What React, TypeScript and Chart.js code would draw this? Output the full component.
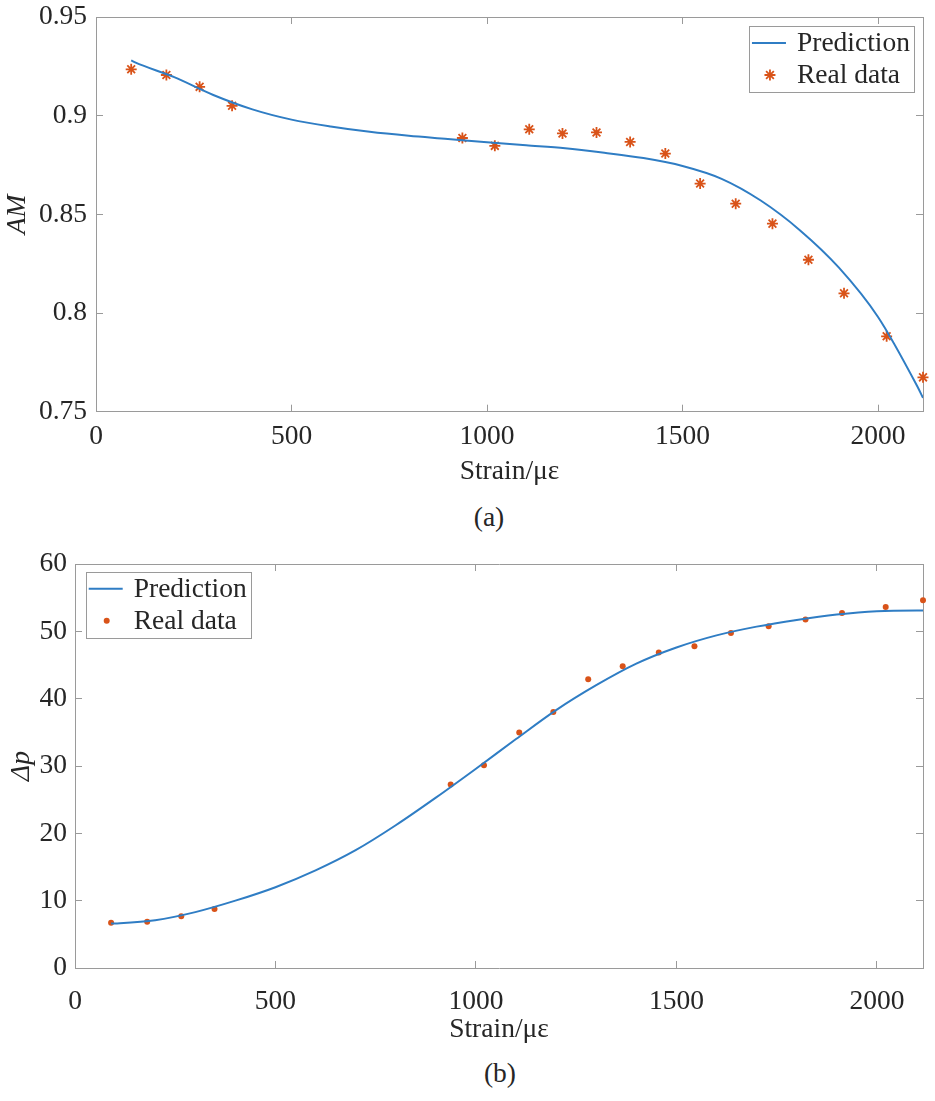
import React, { useEffect, useRef } from "react";
import { Chart, registerables } from "chart.js";

Chart.register(...registerables);

// strain (με) of the measured points, same for both panels
const strain = [90, 180, 265, 348, 937, 1020, 1108, 1193, 1280, 1366, 1456, 1545, 1636, 1730, 1822, 1913, 2022, 2115];
const amReal = [0.9235, 0.9206, 0.9146, 0.905, 0.8887, 0.8847, 0.8931, 0.891, 0.8915, 0.8867, 0.8808, 0.8656, 0.8554, 0.8453, 0.827, 0.81, 0.7882, 0.7674];
const dpReal = [6.72, 6.87, 7.7, 8.75, 27.26, 30.1, 34.97, 38.03, 42.88, 44.8, 46.84, 47.77, 49.75, 50.74, 51.74, 52.72, 53.6, 54.6];

const fitStrain = [90, 100, 200, 300, 400, 500, 600, 700, 800, 900, 1000, 1100, 1200, 1300, 1400, 1500, 1600, 1700, 1800, 1900, 2000, 2100, 2115];
const amFit = [0.928, 0.927, 0.9195, 0.9105, 0.9032, 0.898, 0.8945, 0.8918, 0.8898, 0.8882, 0.8865, 0.885, 0.8835, 0.8812, 0.8785, 0.8745, 0.868, 0.857, 0.842, 0.823, 0.798, 0.763, 0.757];
const dpFit = [6.6, 6.62, 7.1, 8.3, 10.0, 12.0, 14.5, 17.5, 21.2, 25.3, 29.6, 34.0, 38.3, 42.0, 45.2, 47.6, 49.4, 50.7, 51.7, 52.5, 53.0, 53.1, 53.1];

const strainTicks = [0, 500, 1000, 1500, 2000];
const amTicks = [0.75, 0.8, 0.85, 0.9, 0.95];
const dpTicks = [0, 10, 20, 30, 40, 50, 60];

const FONT = "'Liberation Serif', 'Times New Roman', serif";
const FS = 27.5;
const HALF_LINE = (FS * 1.2) / 2;
const INK = "#262626";
const AXIS = "#9a9a9a";
const BLUE = "#2f7dc4";
const ORANGE = "#d95319";

// legend with a frame, drawn inside the plot like MATLAB's
const boxLegend = (corner: "tl" | "tr", dx: number, dy: number) => ({
  id: "boxLegend",
  afterDatasetsDraw(chart: any) {
    const { ctx, chartArea } = chart;
    const sets = chart.data.datasets;
    ctx.save();
    ctx.font = `${FS}px ${FONT}`;
    const textW = Math.max(...sets.map((d: any) => ctx.measureText(d.label).width));
    const w = 48 + textW + 4;
    const h = 66;
    const x = corner === "tr" ? chartArea.right - dx - w : chartArea.left + dx;
    const y = chartArea.top + dy;
    ctx.fillStyle = "#fff";
    ctx.fillRect(x, y, w, h);
    ctx.strokeStyle = AXIS;
    ctx.lineWidth = 1;
    ctx.strokeRect(Math.round(x) + 0.5, Math.round(y) + 0.5, Math.round(w), Math.round(h));
    sets.forEach((d: any, i: number) => {
      const cy = y + 17 + i * 32;
      if (d.pointRadius === 0) {
        ctx.strokeStyle = d.borderColor;
        ctx.lineWidth = d.borderWidth;
        ctx.beginPath();
        ctx.moveTo(x + 3, cy);
        ctx.lineTo(x + 37, cy);
        ctx.stroke();
      } else if (d.pointStyle === "star") {
        const r = d.pointRadius;
        ctx.strokeStyle = d.borderColor;
        ctx.lineWidth = d.borderWidth;
        ctx.beginPath();
        for (let k = 0; k < 4; k++) {
          const a = (k * Math.PI) / 4;
          ctx.moveTo(x + 21 - r * Math.cos(a), cy - r * Math.sin(a));
          ctx.lineTo(x + 21 + r * Math.cos(a), cy + r * Math.sin(a));
        }
        ctx.stroke();
      } else {
        ctx.fillStyle = d.backgroundColor;
        ctx.beginPath();
        ctx.arc(x + 21, cy, d.pointRadius, 0, Math.PI * 2);
        ctx.fill();
      }
      ctx.fillStyle = INK;
      ctx.textBaseline = "middle";
      ctx.textAlign = "left";
      ctx.fillText(d.label, x + 48, cy + 1);
    });
    ctx.restore();
  },
});

interface PanelProps {
  top: number;
  height: number;
  realY: number[];
  fitX: number[];
  fitY: number[];
  yTicks: number[];
  yTitle: string;
  marker: "star" | "circle";
  padTop: number;
  yAxisW: number;
  chartBottom: number; // plot bottom, in the panel's own pixels
  xTickMid: number; // centre of the x tick labels
  xTitleMid: number; // centre of the x title
  yTickPad: number;
  yTitleMid: number;
  legend: ["tl" | "tr", number, number];
}

const Panel = (p: PanelProps) => {
  const canvasRef = useRef<HTMLCanvasElement>(null);

  useEffect(() => {
    const font = { family: FONT, size: FS };
    const setTicks = (vals: number[]) => (axis: any) => {
      axis.ticks = vals.map((v) => ({ value: v }));
    };
    // the tick labels must not push the plot area in
    const noPad = (s: any) => {
      s.paddingTop = 0;
      s.paddingBottom = 0;
      s.paddingLeft = 0;
      s.paddingRight = 0;
    };
    const TICK = -7;
    const inward = { drawOnChartArea: false, drawTicks: true, tickLength: TICK, color: AXIS, lineWidth: 1 };
    const frame = { display: true, color: AXIS, width: 1 };
    const xMin = strainTicks[0];
    const xMax = strain[strain.length - 1];
    const yMin = p.yTicks[0];
    const yMax = p.yTicks[p.yTicks.length - 1];
    const star = p.marker === "star";

    const chart = new Chart(canvasRef.current!, {
      type: "scatter",
      data: {
        datasets: [
          {
            type: "line",
            label: "Prediction",
            data: p.fitX.map((x, i) => ({ x, y: p.fitY[i] })),
            borderColor: BLUE,
            backgroundColor: BLUE,
            borderWidth: 2,
            pointRadius: 0,
            cubicInterpolationMode: "monotone",
            fill: false,
          },
          {
            type: "scatter",
            label: "Real data",
            data: strain.map((x, i) => ({ x, y: p.realY[i] })),
            pointStyle: p.marker,
            pointRadius: star ? 5.5 : 3,
            borderWidth: star ? 1.8 : 0,
            borderColor: ORANGE,
            backgroundColor: ORANGE,
            clip: false,
          },
        ],
      } as any,
      options: {
        animation: false,
        responsive: true,
        maintainAspectRatio: false,
        layout: { padding: { top: p.padTop, right: 12, left: 0, bottom: 0 } },
        plugins: { legend: { display: false }, tooltip: { enabled: false } },
        scales: {
          x: {
            type: "linear",
            position: "bottom",
            min: xMin,
            max: xMax,
            afterBuildTicks: setTicks(strainTicks),
            afterFit: (s: any) => {
              s.height = p.height - p.chartBottom;
              noPad(s);
            },
            grid: inward,
            border: frame,
            ticks: {
              font,
              color: INK,
              padding: p.xTickMid - p.chartBottom - TICK - HALF_LINE,
              maxRotation: 0,
              callback: (v: any) => String(v),
            },
            title: {
              display: true,
              text: "Strain/με",
              font,
              color: INK,
              padding: { top: 0, bottom: p.height - p.xTitleMid - HALF_LINE },
            },
          },
          x2: {
            type: "linear",
            position: "top",
            min: xMin,
            max: xMax,
            afterBuildTicks: setTicks(strainTicks),
            afterFit: (s: any) => {
              s.height = 0;
              noPad(s);
            },
            grid: inward,
            border: frame,
            ticks: { display: false },
          },
          y: {
            type: "linear",
            position: "left",
            min: yMin,
            max: yMax,
            afterBuildTicks: setTicks(p.yTicks),
            afterFit: (s: any) => {
              s.width = p.yAxisW;
              noPad(s);
            },
            grid: inward,
            border: frame,
            ticks: { font, color: INK, padding: p.yTickPad, callback: (v: any) => String(v) },
            title: {
              display: true,
              text: p.yTitle,
              font: { family: FONT, size: FS, style: "italic" },
              color: INK,
              padding: { top: p.yTitleMid - HALF_LINE, bottom: 0 },
            },
          },
          y2: {
            type: "linear",
            position: "right",
            min: yMin,
            max: yMax,
            afterBuildTicks: setTicks(p.yTicks),
            afterFit: (s: any) => {
              s.width = 0;
              noPad(s);
            },
            grid: inward,
            border: frame,
            ticks: { display: false },
          },
        },
      } as any,
      plugins: [boxLegend(...p.legend)],
    });

    return () => {
      chart.destroy();
    };
  }, [p]);

  return (
    <div style={{ position: "absolute", left: 0, top: p.top, width: 935, height: p.height }}>
      <canvas ref={canvasRef}></canvas>
    </div>
  );
};

const caption: React.CSSProperties = {
  position: "absolute",
  fontFamily: FONT,
  fontSize: FS,
  lineHeight: 1,
  color: INK,
  transform: "translate(-50%, -50%)",
  whiteSpace: "nowrap",
};

const topPanel: PanelProps = {
  top: 0,
  height: 495,
  realY: amReal,
  fitX: fitStrain,
  fitY: amFit,
  yTicks: amTicks,
  yTitle: "AM",
  marker: "star",
  padTop: 17,
  yAxisW: 96,
  chartBottom: 411.7,
  xTickMid: 436.7,
  xTitleMid: 471.7,
  yTickPad: 16,
  yTitleMid: 18,
  legend: ["tr", 9, 9],
};

const bottomPanel: PanelProps = {
  top: 540,
  height: 510,
  realY: dpReal,
  fitX: fitStrain,
  fitY: dpFit,
  yTicks: dpTicks,
  yTitle: "Δp",
  marker: "circle",
  padTop: 24,
  yAxisW: 75,
  chartBottom: 428,
  xTickMid: 461.7,
  xTitleMid: 490,
  yTickPad: 15,
  yTitleMid: 22,
  legend: ["tl", 10.7, 7.7],
};

export default function App() {
  return (
    <div style={{ position: "absolute", left: 0, top: 0, width: 935, height: 1101, background: "#fff" }}>
      <Panel {...topPanel} />
      <Panel {...bottomPanel} />
      <div style={{ ...caption, left: 489, top: 516.7 }}>(a)</div>
      <div style={{ ...caption, left: 500, top: 1073 }}>(b)</div>
    </div>
  );
}
